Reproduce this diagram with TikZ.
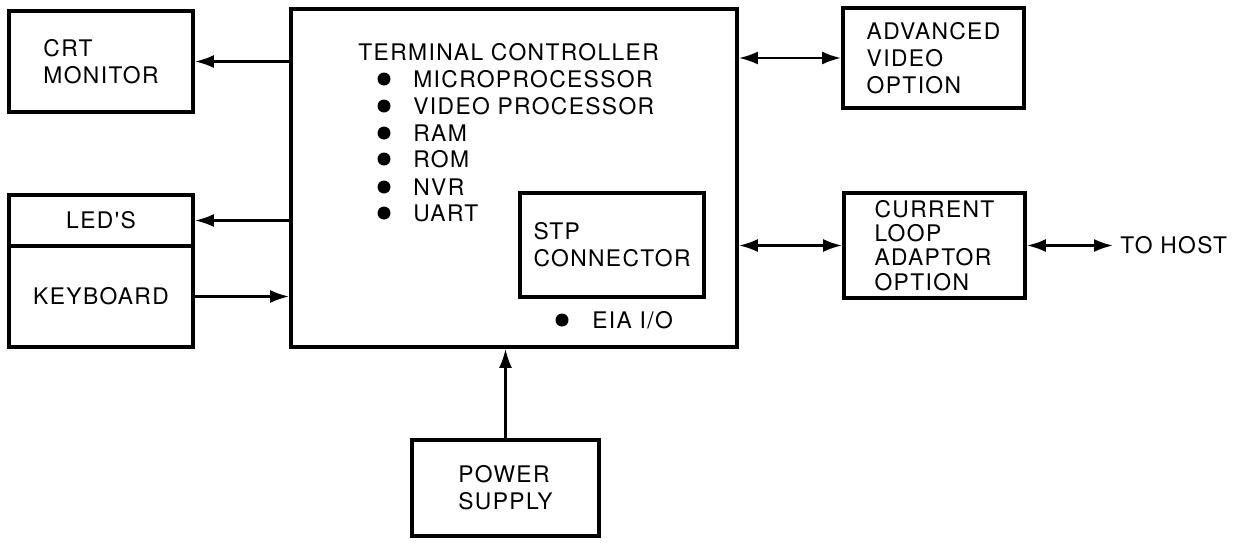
\documentclass[tikz,border=0pt]{standalone}
\usepackage{fontspec}
\newfontfamily\diagfont{TeX Gyre Heros}[LetterSpace=6]
\usetikzlibrary{arrows.meta}

\begin{document}
\begin{tikzpicture}[x=0.02cm,y=-0.02cm,
    font=\diagfont\fontsize{13}{15.5}\selectfont,
    box/.style={draw,line width=2.2pt,align=left,inner sep=0pt},
    arr/.style={line width=1.4pt,-{Latex[length=0.38cm,width=0.26cm]}},
    biarr/.style={line width=1.4pt,{Latex[length=0.38cm,width=0.26cm]}-{Latex[length=0.38cm,width=0.26cm]}}]
    \useasboundingbox (0,0) rectangle (1238,542);
    % boxes
    \node[box,minimum width=3.68cm,minimum height=2.02cm] (crt) at (101,61.5) {CRT\\MONITOR};
    \node[box,minimum width=3.68cm,minimum height=1.02cm] (led) at (101,220.5) {LED'S};
    \node[box,minimum width=3.68cm,minimum height=2.02cm] (kbd) at (101,296.5) {KEYBOARD};
    \node[box,minimum width=8.92cm,minimum height=6.76cm] (tc) at (514,178) {};
    \node[box,line width=1.9pt,minimum width=3.68cm,minimum height=2.08cm] (stp) at (612,245) {STP\\CONNECTOR};
    \node[box,minimum width=3.74cm,minimum height=1.92cm] (ps) at (505.5,488) {POWER\\SUPPLY};
    \node[box,minimum width=3.62cm,minimum height=2.0cm] (avo) at (933.5,58) {ADVANCED\\VIDEO\\OPTION};
    \node[box,minimum width=3.62cm,minimum height=2.1cm,font=\diagfont\fontsize{13}{13.8}\selectfont] (cla) at (934.5,245.5) {CURRENT\\LOOP\\ADAPTOR\\OPTION};
    % controller contents
    \node[anchor=west,inner sep=0pt] (tctitle) at (358,52) {TERMINAL CONTROLLER};
    \foreach \name/\ypos [count=\i] in {MICROPROCESSOR/79, VIDEO PROCESSOR/106, RAM/133, ROM/159, NVR/187, UART/213} {
        \fill (384,\ypos) circle (0.13cm);
        \node[anchor=west,inner sep=0pt] (item\i) at (413,\ypos) {\name};
    }
    \fill (562,320) circle (0.13cm);
    \node[anchor=west,inner sep=0pt] (eia) at (592,320) {EIA I/O};
    % connections
    \draw[arr] (crt.east -| tc.west) -- (crt.east);
    \draw[arr] (led.east -| tc.west) -- (led.east);
    \draw[arr] (kbd.east) -- (kbd.east -| tc.west);
    \draw[biarr] (avo.west -| tc.east) -- (avo.west);
    \draw[biarr] (cla.west -| tc.east) -- (cla.west);
    \draw[arr] (ps.north) -- (ps.north |- tc.south);
    \coordinate (hostend) at (1113,245.5);
    \draw[biarr] (cla.east) -- (hostend);
    \node[anchor=west,inner sep=0pt] (host) at (1120,245) {TO HOST};
\end{tikzpicture}
\end{document}
